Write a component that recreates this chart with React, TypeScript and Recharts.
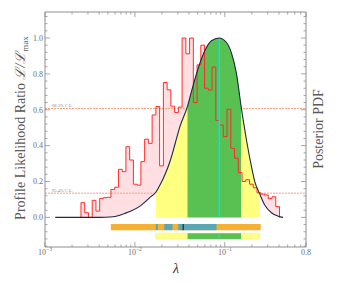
import React from "react"
import {
  ComposedChart,
  Area,
  Line,
  XAxis,
  YAxis,
  ReferenceLine,
  ReferenceArea,
} from "recharts"

// profile likelihood histogram: log-spaced bin edges in lambda and ratio per bin
const histEdges = [
  0.002512, 0.002765, 0.003043, 0.00335, 0.003687, 0.004058, 0.004467, 0.004917,
  0.005412, 0.005957, 0.006557, 0.007217, 0.007943, 0.008743, 0.009624, 0.010593,
  0.011659, 0.012833, 0.014125, 0.015548, 0.017113, 0.018836, 0.020733, 0.022821,
  0.025119, 0.027648, 0.030432, 0.033497, 0.036869, 0.040582, 0.044668, 0.049166,
  0.054117, 0.059566, 0.065564, 0.072167, 0.079433, 0.087431, 0.096235, 0.105925,
  0.116591, 0.128331, 0.141254, 0.155478, 0.171133, 0.188365, 0.207332, 0.228209,
  0.251189, 0.276482, 0.304322, 0.334965, 0.368695, 0.405823,
]
const histRatio = [
  0.082, 0.026, 0, 0.095, 0.035, 0.106, 0.11, 0.112, 0.156, 0.168,
  0.268, 0.255, 0.394, 0.32, 0.185, 0.18, 0.311, 0.436, 0.413, 0.571,
  0.618, 0.287, 0.752, 0.711, 0.62, 0.585, 0.615, 1.0, 0.912, 1.0,
  0.64, 0.85, 0.96, 0.72, 0.71, 0.838, 0.54, 0.515, 0.45, 0.603,
  0.385, 0.33, 0.25, 0.2, 0.21, 0.185, 0.165, 0.137, 0.13, 0.125,
  0.105, 0.115, 0.06,
]

// posterior pdf (normalised to its peak)
const pdfLambda = [
  0.0013, 0.0041, 0.0053, 0.0068, 0.0077, 0.0088, 0.0114, 0.0129, 0.0147, 0.0171,
  0.019, 0.0215, 0.0245, 0.0278, 0.0316, 0.0385, 0.043, 0.0505, 0.06, 0.0711,
  0.0865, 0.1044, 0.1187, 0.135, 0.1517, 0.1743, 0.198, 0.2154, 0.243, 0.278,
  0.33, 0.391, 0.445,
]
const pdfValue = [
  0, 0, 0.002, 0.012, 0.022, 0.033, 0.063, 0.085, 0.112, 0.14,
  0.18, 0.236, 0.31, 0.405, 0.505, 0.62, 0.71, 0.83, 0.93, 0.985,
  1.0, 0.975, 0.916, 0.8, 0.62, 0.43, 0.283, 0.2, 0.134, 0.069,
  0.026, 0.007, 0,
]

const cl68 = 0.607
const cl95 = 0.135
const bestFit = 0.0869
const band95 = [0.0171, 0.243]
const band68 = [0.0385, 0.1517]
const scanRange = [0.0054, 0.251]
const scanDense = [
  [0.0171, 0.018],
  [0.0212, 0.0262],
  [0.0304, 0.0809],
]
const scanMark = 0.0344

const xMajor = [0.001, 0.01, 0.1, 0.8]
const xMinor = [
  0.002, 0.003, 0.004, 0.005, 0.006, 0.007, 0.008, 0.009,
  0.02, 0.03, 0.04, 0.05, 0.06, 0.07, 0.08, 0.09,
  0.2, 0.3, 0.4, 0.5, 0.6, 0.7,
]
const yMajor = [0, 0.2, 0.4, 0.6, 0.8, 1.0]
const yMinor = [
  -0.16, -0.12, -0.08, -0.04, 0.04, 0.08, 0.12, 0.16, 0.24, 0.28, 0.32, 0.36,
  0.44, 0.48, 0.52, 0.56, 0.64, 0.68, 0.72, 0.76, 0.84, 0.88, 0.92, 0.96,
  1.04, 1.08, 1.12,
]

const FONT = "'Liberation Serif', 'DejaVu Serif', serif"
const AXIS = "#8f8f8f"
const TEXT = "#6e6e6e"
const PINK = "#ffdfe2"
const RED = "#ff2b2b"
const YELLOW = "#ffff80"
const GREEN = "#58c152"
const CYAN = "#00e6ef"
const CURVE = "#1f2744"
const ORANGE = "#f6b133"
const TEAL = "#5aa8b3"
const DASH = "#f4a184"

const histData = [
  { lam: histEdges[0], r: 0 },
  ...histRatio.map((r, i) => ({ lam: histEdges[i], r })),
  { lam: histEdges[histEdges.length - 1], r: 0 },
]
const pdfData = pdfLambda.map((lam, i) => ({ lam, p: pdfValue[i] }))
const yellowData = pdfData.filter((d) => d.lam >= band95[0] && d.lam <= band95[1])
const greenData = pdfData.filter((d) => d.lam >= band68[0] && d.lam <= band68[1])

const xTicks = [...xMajor, ...xMinor].sort((a, b) => a - b)
const yTicks = [...yMajor, ...yMinor].sort((a, b) => a - b)

function BottomTick({ x, y, payload }: any) {
  const v = payload.value
  const major = xMajor.includes(v)
  return (
    <g>
      <line x1={x} x2={x} y1={y} y2={y - (major ? 5 : 2.5)} stroke={AXIS} strokeWidth={0.8} />
      {major && (
        <text x={x} y={y + 7.5} textAnchor="middle" fontFamily={FONT} fontSize={8} fill={TEXT}>
          {v === 0.8 ? (
            "0.8"
          ) : (
            <>
              10
              <tspan dy={-3.2} fontSize={5.5}>
                {"\u2212" + Math.round(-Math.log10(v))}
              </tspan>
            </>
          )}
        </text>
      )}
    </g>
  )
}

function TopTick({ x, y, payload }: any) {
  const major = xMajor.includes(payload.value)
  return <line x1={x} x2={x} y1={y} y2={y + (major ? 5 : 2.5)} stroke={AXIS} strokeWidth={0.8} />
}

function LeftTick({ x, y, payload }: any) {
  const v = payload.value
  const major = yMajor.includes(v)
  return (
    <g>
      <line x1={x} x2={x + (major ? 5 : 2.5)} y1={y} y2={y} stroke={AXIS} strokeWidth={0.8} />
      {major && (
        <text x={x - 2} y={y + 2.8} textAnchor="end" fontFamily={FONT} fontSize={8} fill={TEXT}>
          {v.toFixed(1)}
        </text>
      )}
    </g>
  )
}

function RightTick({ x, y, payload }: any) {
  const major = yMajor.includes(payload.value)
  return <line x1={x} x2={x - (major ? 5 : 2.5)} y1={y} y2={y} stroke={AXIS} strokeWidth={0.8} />
}

function LeftTitle() {
  return (
    <text
      transform="translate(25,128) rotate(-90)"
      textAnchor="middle"
      fontFamily={FONT}
      fontSize={14}
      fill="#5a5a5a"
    >
      Profile Likelihood Ratio <tspan fontStyle="italic">ℒ/ℒ</tspan>
      <tspan fontSize={9} dy={3}>max</tspan>
    </text>
  )
}

function RightTitle() {
  return (
    <text
      transform="translate(323,129) rotate(-90)"
      textAnchor="middle"
      fontFamily={FONT}
      fontSize={14}
      fill="#5a5a5a"
    >
      Posterior PDF
    </text>
  )
}

function BottomTitle() {
  return (
    <text x={176} y={273} textAnchor="middle" fontFamily={FONT} fontSize={14} fontStyle="italic" fill="#333">
      λ
    </text>
  )
}

const clLabel = (text: string) => (props: any) => {
  const vb = props.viewBox || {}
  return (
    <text x={vb.x + 7} y={vb.y - 1.5} fontFamily={FONT} fontSize={4.5} fill="#888">
      {text}
    </text>
  )
}

export default function App() {
  return (
    <div style={{ position: "absolute", left: 0, top: 0, background: "#fff" }}>
      <ComposedChart width={353} height={283} margin={{ top: 0, right: 0, bottom: 0, left: 0 }}>
        <XAxis
          dataKey="lam"
          type="number"
          scale="log"
          domain={[0.001, 0.8]}
          allowDataOverflow
          ticks={xTicks}
          interval={0}
          tickSize={0}
          tickMargin={0}
          tickLine={false}
          tick={<BottomTick />}
          height={36}
          axisLine={{ stroke: AXIS }}
          label={<BottomTitle />}
        />
        <XAxis
          xAxisId="top"
          orientation="top"
          dataKey="lam"
          type="number"
          scale="log"
          domain={[0.001, 0.8]}
          allowDataOverflow
          ticks={xTicks}
          interval={0}
          tickSize={0}
          tickMargin={0}
          tickLine={false}
          tick={<TopTick />}
          height={12}
          axisLine={{ stroke: AXIS }}
        />
        <YAxis
          type="number"
          domain={[-0.165, 1.145]}
          allowDataOverflow
          ticks={yTicks}
          interval={0}
          tickSize={0}
          tickMargin={0}
          tickLine={false}
          tick={<LeftTick />}
          width={45}
          axisLine={{ stroke: AXIS }}
          label={<LeftTitle />}
        />
        <YAxis
          yAxisId="right"
          orientation="right"
          type="number"
          domain={[-0.165, 1.145]}
          allowDataOverflow
          ticks={yTicks}
          interval={0}
          tickSize={0}
          tickMargin={0}
          tickLine={false}
          tick={<RightTick />}
          width={47}
          axisLine={{ stroke: AXIS }}
          label={<RightTitle />}
        />

        <Area
          data={histData}
          dataKey="r"
          type="stepAfter"
          baseValue={0}
          fill={PINK}
          fillOpacity={1}
          stroke="none"
          isAnimationActive={false}
          zIndex={90}
        />
        <ReferenceLine y={cl68} stroke={DASH} strokeDasharray="2 1" strokeWidth={1} zIndex={95} label={clLabel("68.3% C.L.")} />
        <ReferenceLine y={cl95} stroke={DASH} strokeDasharray="2 1" strokeWidth={1} zIndex={95} label={clLabel("95.4% C.L.")} />
        <Area
          data={pdfData}
          dataKey="p"
          type="monotone"
          baseValue={0}
          fill="#ffffff"
          fillOpacity={1}
          stroke="none"
          isAnimationActive={false}
        />
        <Area
          data={yellowData}
          dataKey="p"
          type="monotone"
          baseValue={0}
          fill={YELLOW}
          fillOpacity={1}
          stroke="none"
          isAnimationActive={false}
        />
        <Area
          data={greenData}
          dataKey="p"
          type="monotone"
          baseValue={0}
          fill={GREEN}
          fillOpacity={1}
          stroke="none"
          isAnimationActive={false}
        />
        <Line
          data={histData}
          dataKey="r"
          type="stepAfter"
          stroke={RED}
          strokeWidth={1}
          dot={false}
          isAnimationActive={false}
        />
        <ReferenceLine
          segment={[
            { x: bestFit, y: 0 },
            { x: bestFit, y: 1 },
          ]}
          stroke={CYAN}
          strokeWidth={1.5}
        />
        <Line
          data={pdfData}
          dataKey="p"
          type="monotone"
          stroke={CURVE}
          strokeWidth={1.1}
          dot={false}
          isAnimationActive={false}
        />

        <ReferenceArea x1={scanRange[0]} x2={scanRange[1]} y1={-0.071} y2={-0.037} fill={ORANGE} fillOpacity={1} stroke="none" ifOverflow="visible" />
        {scanDense.map(([a, b], i) => (
          <ReferenceArea key={i} x1={a} x2={b} y1={-0.071} y2={-0.037} fill={TEAL} fillOpacity={1} stroke="none" ifOverflow="visible" />
        ))}
        <ReferenceLine segment={[{ x: scanMark, y: -0.071 }, { x: scanMark, y: -0.037 }]} stroke="#111" strokeWidth={1} />
        <ReferenceArea x1={band95[0]} x2={band95[1]} y1={-0.121} y2={-0.088} fill={YELLOW} fillOpacity={1} stroke="#f1eaa8" strokeWidth={0.6} ifOverflow="visible" />
        <ReferenceArea x1={band68[0]} x2={band68[1]} y1={-0.121} y2={-0.088} fill={GREEN} fillOpacity={1} stroke="none" ifOverflow="visible" />
        <ReferenceLine segment={[{ x: bestFit, y: -0.121 }, { x: bestFit, y: -0.088 }]} stroke={CYAN} strokeWidth={1} />
      </ComposedChart>
    </div>
  )
}
